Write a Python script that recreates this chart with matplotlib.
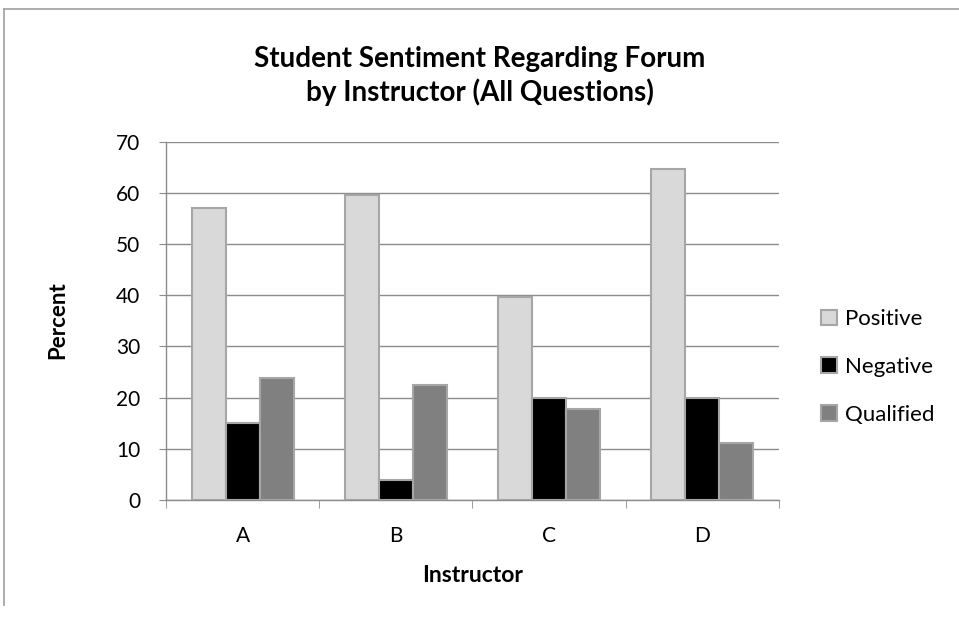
import matplotlib
matplotlib.use("Agg")
import matplotlib.pyplot as plt
import numpy as np

instructors = ["A", "B", "C", "D"]
positive = [57.0, 59.5, 39.7, 64.6]
negative = [15.0, 3.9, 20.0, 20.0]
qualified = [23.9, 22.4, 17.7, 11.1]

plt.rcParams['font.family'] = ['Lato', 'DejaVu Sans']

fig = plt.figure(figsize=(9.59, 6.21), dpi=100)
ax = fig.add_axes([0.1731, 0.1948, 0.6392, 0.577])

x = np.arange(len(instructors))
w = 0.222  # Excel gap width 150%
edge = '#a6a6a6'

series = [("Positive", positive, '#d9d9d9'),
          ("Negative", negative, '#000000'),
          ("Qualified", qualified, '#808080')]
for i, (name, vals, col) in enumerate(series):
    ax.bar(x + (i - 1) * w, vals, width=w, color=col, edgecolor=edge,
           linewidth=1.5, label=name, zorder=3)

ax.set_xlim(-0.5, len(instructors) - 0.5)
ax.set_ylim(0, 70)
ax.set_yticks(range(0, 71, 10))
ax.yaxis.grid(True, color='#8c8c8c', linewidth=1, zorder=0)

# category labels in the middle, ticks at the boundaries
ax.set_xticks(x)
ax.set_xticklabels(instructors, fontsize=15)
ax.set_xticks(np.arange(-0.5, len(instructors), 1), minor=True)
ax.tick_params(axis='x', which='major', length=0, pad=19)
ax.tick_params(axis='x', which='minor', length=6, color='#8c8c8c', direction='out')
ax.tick_params(axis='y', labelsize=15, length=5, color='#8c8c8c', pad=13.5)

for s in ['top', 'right']:
    ax.spines[s].set_visible(False)
for s in ['left', 'bottom']:
    ax.spines[s].set_color('#8c8c8c')
    ax.spines[s].set_linewidth(1)

ax.set_xlabel("Instructor", fontsize=16.5, fontweight='bold', va='center')
ax.xaxis.set_label_coords(0.5, -0.212)
ax.set_ylabel("Percent", fontsize=16, fontweight='bold', va='center')
ax.yaxis.set_label_coords(-0.176, 0.502)

fig.text(0.5005, 1 - 66.7 / 621, "Student Sentiment Regarding Forum", ha='center',
         va='baseline', fontsize=20, fontweight='bold')
fig.text(0.5005, 1 - 100.7 / 621, "by Instructor (All Questions)", ha='center',
         va='baseline', fontsize=20, fontweight='bold')

leg = ax.legend(loc='center left', bbox_to_anchor=(1.0685, 0.371), frameon=False,
                fontsize=16, handlelength=0.72, handleheight=0.72, labelspacing=1.25,
                handletextpad=0.36, borderpad=0, borderaxespad=0)

# chart frame (cropped Excel chart border)
fig.add_artist(plt.Line2D([4 / 959, 1], [1 - 9 / 621, 1 - 9 / 621],
                          transform=fig.transFigure, color='#a0a0a0', linewidth=1.2))
fig.add_artist(plt.Line2D([4 / 959, 4 / 959], [1 - 9 / 621, 1 - 605 / 621],
                          transform=fig.transFigure, color='#a0a0a0', linewidth=1.2))

fig.savefig("out.png", dpi=100)
